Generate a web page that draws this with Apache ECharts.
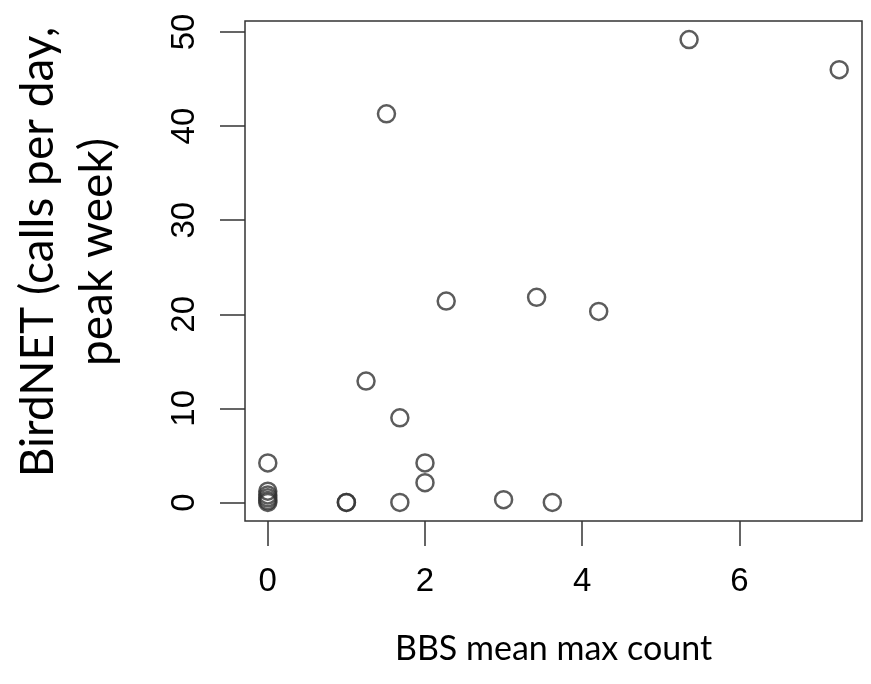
<!DOCTYPE html>
<html>
<head>
<meta charset="utf-8">
<script src="https://cdn.jsdelivr.net/npm/echarts@6/dist/echarts.min.js"></script>
<style>
  html, body { margin: 0; padding: 0; background: #fff; }
  #main { width: 871px; height: 684px; }
</style>
</head>
<body>
<div id="main"></div>
<script>
// BBS mean max count vs BirdNET calls per day (peak week)
const bbsCount = [0, 0, 0, 0, 0, 0, 1, 1, 1.25, 1.51, 1.68, 1.68, 2, 2, 2.27, 3.0, 3.42, 3.62, 4.21, 5.36, 7.27];
const birdnetCalls = [4.2, 1.2, 0.8, 0.5, 0.2, 0, 0, 0, 12.9, 41.3, 9.0, 0, 4.2, 2.1, 21.4, 0.3, 21.8, 0, 20.3, 49.2, 46.0];
const xTicks = [0, 2, 4, 6];
const yTicks = [0, 10, 20, 30, 40, 50];

const points = bbsCount.map((x, i) => [x, birdnetCalls[i]]);

const chart = echarts.init(document.getElementById('main'));

const tickFont = { fontFamily: 'Liberation Sans', fontSize: 33, color: '#000' };

const option = {
  animation: false,
  backgroundColor: '#fff',
  grid: {
    left: 245, right: 9, top: 21, bottom: 163,
    show: true, borderColor: '#333', borderWidth: 1.5, backgroundColor: 'transparent'
  },
  xAxis: {
    type: 'value',
    min: -0.29, max: 7.56,
    name: 'BBS mean max count',
    nameLocation: 'middle',
    nameGap: 111,
    nameTextStyle: { fontFamily: 'Lato', fontSize: 34, color: '#000' },
    axisLine: { show: false, onZero: false },
    splitLine: { show: false },
    axisTick: { show: true, inside: false, length: 25, customValues: xTicks, lineStyle: { color: '#333', width: 1.5 } },
    axisLabel: Object.assign({ customValues: xTicks, margin: 44 }, tickFont)
  },
  yAxis: {
    type: 'value',
    min: -1.97, max: 51.17,
    axisLine: { show: false, onZero: false },
    splitLine: { show: false },
    axisTick: { show: true, inside: false, length: 25, customValues: yTicks, lineStyle: { color: '#333', width: 1.5 } },
    axisLabel: Object.assign({ customValues: yTicks, margin: 44, rotate: 90 }, tickFont)
  },
  graphic: [{
    type: 'text',
    x: 68, y: 252,
    rotation: Math.PI / 2,
    style: {
      text: 'BirdNET (calls per day,\npeak week)',
      font: '46px Lato',
      fill: '#000',
      align: 'center',
      verticalAlign: 'middle',
      lineHeight: 59
    }
  }],
  series: [{
    type: 'scatter',
    data: points,
    symbol: 'circle',
    symbolSize: 17,
    itemStyle: { color: 'transparent', borderColor: '#333', borderWidth: 2.5 }
  }]
};

chart.setOption(option);
</script>
</body>
</html>
